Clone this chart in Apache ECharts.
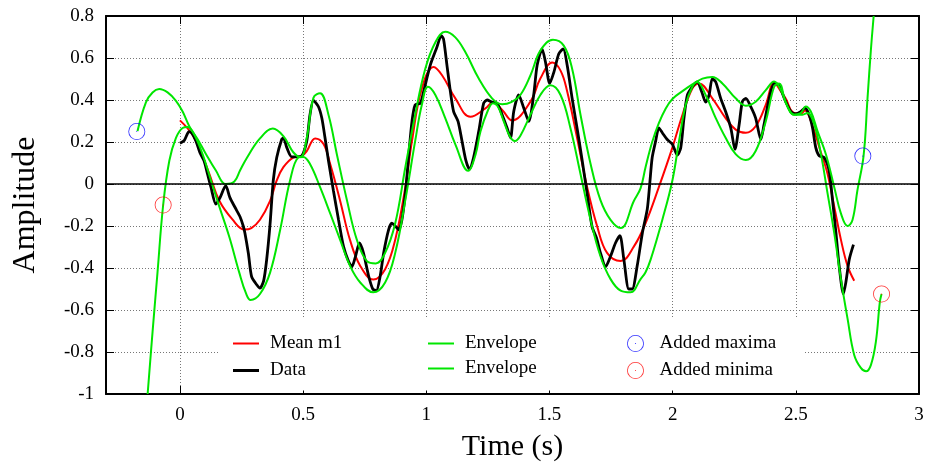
<!DOCTYPE html>
<html>
<head>
<meta charset="utf-8">
<script src="https://cdn.jsdelivr.net/npm/echarts@6/dist/echarts.min.js"></script>
<style>html,body{margin:0;padding:0;background:#fff}#c{width:928px;height:467px}</style>
</head>
<body>
<div id="c"></div>
<script>
// ---- tick values ----
const xTicks = [0, 0.5, 1, 1.5, 2, 2.5, 3];
const yMin = -1, yMax = 0.8, yStep = 0.2;

// ---- Data (black) ----
const dataT = [0,0.018,0.037,0.05,0.065,0.081,0.098,0.112,0.126,0.146,
0.163,0.186,0.203,0.224,0.244,0.257,0.264,0.278,0.291,0.312,
0.325,0.34,0.352,0.366,0.379,0.393,0.413,0.42,0.434,0.454,
0.474,0.495,0.515,0.528,0.542,0.562,0.576,0.589,0.603,0.623,
0.644,0.664,0.684,0.698,0.711,0.729,0.745,0.766,0.783,0.797,
0.813,0.827,0.847,0.86,0.874,0.888,0.901,0.915,0.928,0.942,
0.955,0.976,0.989,1.016,1.043,1.061,1.07,1.084,1.098,1.111,
1.129,1.145,1.161,1.175,1.192,1.213,1.233,1.247,1.267,1.287,
1.308,1.328,1.342,1.355,1.375,1.396,1.416,1.436,1.45,1.47,
1.484,1.501,1.518,1.538,1.556,1.572,1.592,1.612,1.633,1.653,
1.673,1.691,1.707,1.728,1.748,1.768,1.786,1.802,1.822,1.836,
1.856,1.877,1.897,1.907,1.917,1.931,1.944,1.958,1.978,1.999,
2.019,2.033,2.046,2.06,2.08,2.1,2.118,2.134,2.148,2.161,
2.175,2.195,2.215,2.236,2.253,2.27,2.283,2.297,2.317,2.337,
2.358,2.371,2.392,2.412,2.432,2.446,2.459,2.48,2.5,2.52,
2.537,2.554,2.568,2.581,2.595,2.615,2.635,2.649,2.663,2.676,
2.693,2.703,2.717,2.734];
const dataY = [0.194,0.208,0.249,0.24,0.205,0.15,0.11,0.048,-0.015,-0.096,
-0.065,-0.008,-0.065,-0.112,-0.156,-0.2,-0.234,-0.331,-0.441,-0.48,
-0.496,-0.46,-0.362,-0.19,0.017,0.126,0.212,0.22,0.173,0.129,
0.129,0.134,0.205,0.33,0.398,0.369,0.314,0.22,0.111,-0.031,
-0.171,-0.297,-0.367,-0.394,-0.352,-0.281,-0.328,-0.438,-0.5,-0.508,
-0.438,-0.328,-0.218,-0.187,-0.2,-0.218,-0.171,-0.046,0.126,0.298,
0.377,0.385,0.439,0.565,0.651,0.706,0.69,0.565,0.439,0.345,
0.298,0.205,0.111,0.071,0.126,0.251,0.385,0.4,0.39,0.385,
0.33,0.267,0.22,0.345,0.424,0.361,0.298,0.424,0.565,0.643,
0.58,0.479,0.533,0.62,0.643,0.565,0.408,0.267,0.111,-0.046,
-0.203,-0.257,-0.328,-0.394,-0.344,-0.281,-0.246,-0.359,-0.5,-0.5,
-0.391,-0.234,-0.12,0.0,0.126,0.204,0.267,0.244,0.212,0.189,
0.138,0.173,0.314,0.424,0.463,0.486,0.439,0.39,0.424,0.502,
0.486,0.408,0.345,0.267,0.165,0.283,0.392,0.408,0.369,0.314,
0.212,0.283,0.408,0.479,0.471,0.43,0.392,0.345,0.334,0.345,
0.361,0.33,0.267,0.173,0.134,0.126,0.064,-0.077,-0.234,-0.391,
-0.524,-0.469,-0.359,-0.289];

// ---- Mean m1 (red) ----
const meanT = [0,0.051,0.085,0.119,0.16,0.214,0.262,0.29,0.325,0.366,
0.393,0.42,0.46,0.495,0.515,0.549,0.583,0.61,0.65,0.69,
0.732,0.785,0.833,0.874,0.915,0.942,0.982,1.03,1.064,1.118,
1.179,1.24,1.272,1.31,1.348,1.423,1.463,1.511,1.545,1.572,
1.612,1.653,1.694,1.734,1.789,1.843,1.89,1.944,1.999,2.04,
2.08,2.107,2.161,2.215,2.256,2.297,2.337,2.378,2.412,2.44,
2.46,2.487,2.52,2.537,2.561,2.602,2.629,2.656,2.683,2.71,2.737];
const meanY = [0.303,0.235,0.15,0.05,-0.08,-0.17,-0.217,-0.21,-0.17,-0.08,
0.017,0.08,0.126,0.133,0.157,0.217,0.19,0.095,-0.078,-0.265,
-0.39,-0.455,-0.406,-0.265,-0.015,0.205,0.455,0.557,0.518,0.408,
0.32,0.36,0.39,0.35,0.303,0.392,0.502,0.578,0.54,0.44,
0.22,-0.015,-0.203,-0.328,-0.367,-0.297,-0.187,-0.015,0.173,0.33,
0.455,0.479,0.408,0.314,0.259,0.244,0.275,0.377,0.483,0.44,
0.405,0.343,0.335,0.35,0.30,0.15,0.048,-0.108,-0.265,-0.39,-0.461];

// ---- Upper envelope (green) ----
const upperT = [-0.172,-0.138,-0.111,-0.084,-0.05,-0.016,0.011,0.038,0.072,0.106,
0.146,0.186,0.221,0.244,0.271,0.325,0.377,0.42,0.461,0.49,
0.515,0.542,0.569,0.603,0.637,0.678,0.718,0.759,0.795,0.833,
0.874,0.915,0.955,0.996,1.037,1.077,1.118,1.159,1.213,1.267,
1.308,1.345,1.382,1.423,1.463,1.514,1.558,1.592,1.626,1.667,
1.707,1.748,1.789,1.843,1.87,1.89,1.917,1.944,1.972,1.999,
2.04,2.08,2.121,2.161,2.202,2.256,2.297,2.337,2.378,2.412,
2.44,2.466,2.493,2.52,2.54,2.561,2.588,2.622,2.656,2.683,
2.71,2.73,2.75,2.775,2.791,2.805,2.816];
const upperY = [0.252,0.389,0.436,0.452,0.436,0.396,0.345,0.275,0.213,0.142,
0.064,0.0,0.012,0.064,0.123,0.217,0.264,0.228,0.150,0.128,
0.22,0.41,0.432,0.33,0.142,-0.077,-0.265,-0.367,-0.378,-0.328,
-0.187,0.08,0.33,0.549,0.675,0.725,0.698,0.627,0.502,0.408,
0.38,0.39,0.424,0.518,0.635,0.687,0.659,0.549,0.33,0.095,
-0.077,-0.171,-0.21,-0.08,-0.02,0.08,0.2,0.29,0.36,0.405,
0.442,0.474,0.502,0.51,0.479,0.408,0.373,0.392,0.447,0.488,
0.445,0.369,0.33,0.338,0.369,0.345,0.252,0.142,-0.015,-0.14,
-0.2,-0.171,-0.03,0.134,0.408,0.643,0.8];

// ---- Lower envelope (green) ----
const lowerT = [-0.131,-0.111,-0.091,-0.068,-0.043,-0.016,0.011,0.031,0.058,0.092,
0.126,0.16,0.2,0.241,0.268,0.287,0.325,0.366,0.407,0.447,
0.481,0.501,0.528,0.569,0.61,0.65,0.691,0.732,0.785,0.833,
0.874,0.915,0.955,0.982,1.007,1.037,1.077,1.118,1.17,1.2,
1.22,1.25,1.271,1.29,1.314,1.34,1.36,1.382,1.423,1.463,
1.504,1.545,1.585,1.626,1.667,1.707,1.748,1.789,1.829,1.87,
1.89,1.911,1.958,1.999,2.026,2.053,2.08,2.1,2.134,2.175,
2.215,2.256,2.297,2.337,2.378,2.412,2.432,2.459,2.493,2.527,
2.547,2.575,2.602,2.629,2.656,2.683,2.71,2.737,2.764,2.785,
2.805,2.825,2.841,2.848];
const lowerY = [-1.0,-0.704,-0.422,-0.10,0.111,0.22,0.267,0.272,0.236,0.142,
0.017,-0.108,-0.25,-0.422,-0.52,-0.552,-0.524,-0.422,-0.218,0.017,
0.126,0.129,0.095,-0.015,-0.14,-0.265,-0.391,-0.469,-0.516,-0.469,
-0.328,-0.077,0.205,0.377,0.463,0.424,0.314,0.189,0.063,0.14,
0.25,0.35,0.385,0.37,0.30,0.225,0.205,0.23,0.33,0.424,
0.47,0.424,0.267,0.048,-0.171,-0.344,-0.453,-0.508,-0.516,-0.453,
-0.42,-0.359,-0.171,0.017,0.205,0.377,0.463,0.486,0.424,0.314,
0.22,0.142,0.114,0.157,0.298,0.463,0.479,0.39,0.33,0.33,
0.338,0.283,0.142,-0.046,-0.234,-0.453,-0.641,-0.814,-0.876,-0.892,
-0.861,-0.751,-0.563,-0.524];

// ---- Added extrema ----
const maxT = [-0.175, 2.772];
const maxY = [0.25, 0.133];
const minT = [-0.068, 2.848];
const minY = [-0.10, -0.524];

const zip = (a, b) => a.map((v, i) => [v, b[i]]);

const FONT = "'Liberation Serif', 'DejaVu Serif', serif";
const GREEN = '#00e600';
const RING = 'path://M0,8.5A8.5,8.5,0,1,1,17,8.5A8.5,8.5,0,1,1,0,8.5ZM0.8,8.5A7.7,7.7,0,1,0,16.2,8.5A7.7,7.7,0,1,0,0.8,8.5ZM7.9,8.5A0.6,0.6,0,1,1,9.1,8.5A0.6,0.6,0,1,1,7.9,8.5Z';
const LINE2 = 'path://M0,0H26V2H0Z';
const LINE3 = 'path://M0,0H26V3H0Z';

const gridLine = { show: true, lineStyle: { color: '#777', width: 1, type: [1, 2] } };
const frame = { show: true, onZero: false, lineStyle: { color: '#000', width: 2 } };
const tick = { show: true, inside: true, length: 8, lineStyle: { color: '#000', width: 1 } };
const lblStyle = { color: '#000', fontSize: 19, fontFamily: FONT };

const legendText = { color: '#000', fontSize: 19, fontFamily: FONT, lineHeight: 17, padding: [0, 0, 0, 6] };
function legendBox(left, top, data) {
  return {
    orient: 'vertical', left: left, top: top, padding: 0,
    itemWidth: 26, itemHeight: 17, itemGap: 8,
    textStyle: legendText, selectedMode: false, data: data
  };
}

const chart = echarts.init(document.getElementById('c'), null, { renderer: 'canvas' });
chart.setOption({
  animation: false,
  backgroundColor: '#fff',
  grid: { left: 106, right: 9, top: 16, bottom: 68, containLabel: false },
  xAxis: [
    {
      type: 'value', min: -0.3, max: 3, position: 'bottom',
      axisLine: frame,
      axisTick: Object.assign({ customValues: xTicks }, tick),
      axisLabel: Object.assign({ customValues: xTicks, margin: 12 }, lblStyle),
      splitLine: gridLine,
      name: 'Time (s)', nameLocation: 'middle', nameGap: 38,
      nameTextStyle: { color: '#000', fontSize: 30, fontFamily: FONT }
    },
    {
      type: 'value', min: -0.3, max: 3, position: 'top',
      axisLine: frame,
      axisTick: Object.assign({ customValues: xTicks }, tick),
      axisLabel: { show: false, customValues: xTicks },
      splitLine: { show: false }
    }
  ],
  yAxis: [
    {
      type: 'value', min: yMin, max: yMax, interval: yStep, position: 'left',
      axisLine: frame, axisTick: tick,
      axisLabel: Object.assign({ margin: 12 }, lblStyle),
      splitLine: gridLine,
      name: 'Amplitude', nameLocation: 'middle', nameGap: 64,
      nameTextStyle: { color: '#000', fontSize: 32, fontFamily: FONT }
    },
    {
      type: 'value', min: yMin, max: yMax, interval: yStep, position: 'right',
      axisLine: frame, axisTick: tick,
      axisLabel: { show: false }, splitLine: { show: false }
    }
  ],
  graphic: [{
    type: 'rect', z: 3, silent: true,
    shape: { x: 220, y: 318.5, width: 584, height: 72 },
    style: { fill: '#fff' }
  }],
  legend: [
    legendBox(233, 334, [
      { name: 'Mean m1', icon: LINE2 },
      { name: 'Data', icon: LINE3 }
    ]),
    legendBox(428, 334, [{ name: 'Envelope', icon: LINE2 }]),
    legendBox(428, 359, [{ name: 'Envelope', icon: LINE2 }]),
    legendBox(627, 334, ['Added maxima', 'Added minima'])
  ],
  series: [
    {
      name: 'Mean m1', type: 'line', data: zip(meanT, meanY),
      symbol: 'none', smooth: 0.4, color: '#ff0000',
      lineStyle: { color: '#ff0000', width: 2 }, z: 2,
      markLine: {
        silent: true, symbol: ['none', 'none'], label: { show: false },
        lineStyle: { color: '#000', width: 1.5, type: 'solid' },
        data: [{ yAxis: 0 }]
      }
    },
    {
      name: 'Data', type: 'line', data: zip(dataT, dataY),
      symbol: 'none', smooth: 0.25, color: '#000',
      lineStyle: { color: '#000', width: 2.8 }, z: 2
    },
    {
      name: 'Envelope', type: 'line', data: zip(upperT, upperY),
      symbol: 'none', smooth: 0.4, color: GREEN,
      lineStyle: { color: GREEN, width: 2 }, z: 2
    },
    {
      name: 'Envelope', type: 'line', data: zip(lowerT, lowerY),
      symbol: 'none', smooth: 0.4, color: GREEN,
      lineStyle: { color: GREEN, width: 2 }, z: 2
    },
    {
      name: 'Added maxima', type: 'scatter', data: zip(maxT, maxY),
      symbol: RING, symbolSize: 17, color: '#0000ff',
      itemStyle: { color: '#0000ff' }, z: 3
    },
    {
      name: 'Added minima', type: 'scatter', data: zip(minT, minY),
      symbol: RING, symbolSize: 17, color: '#ff0000',
      itemStyle: { color: '#ff0000' }, z: 3
    }
  ]
});
</script>
</body>
</html>
